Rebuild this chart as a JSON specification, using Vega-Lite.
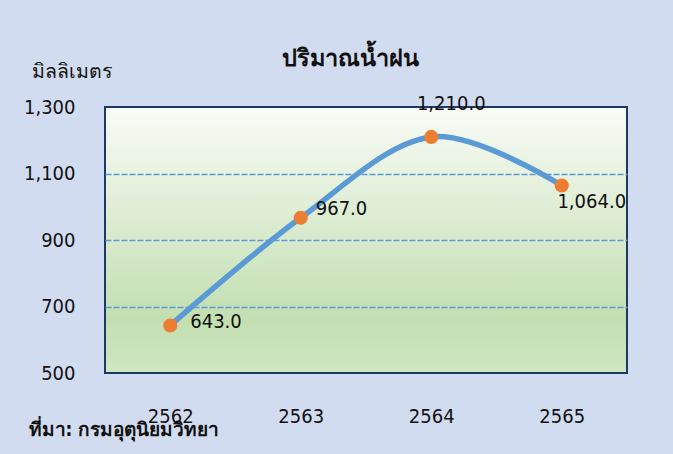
{
  "$schema": "https://vega.github.io/schema/vega-lite/v6.json",
  "width": 522,
  "height": 266,
  "autosize": {"type": "none"},
  "padding": {"left": 105, "top": 107, "right": 46, "bottom": 81},
  "background": "#d2dcf0",
  "config": {
    "font": "DejaVu Sans Condensed",
    "view": {
      "fill": {"gradient": "linear", "x1": 0, "y1": 0, "x2": 0, "y2": 1,
        "stops": [{"offset": 0, "color": "#f9fbf6"}, {"offset": 0.8, "color": "#c3dfb1"}, {"offset": 1, "color": "#d0e6c2"}]},
      "stroke": "#1f3864",
      "strokeWidth": 2
    }
  },
  "title": {
    "text": "ปริมาณน้ำฝน",
    "frame": "group",
    "anchor": "middle",
    "dx": -16,
    "offset": -21,
    "baseline": "middle",
    "fontSize": 23.5,
    "fontWeight": "bold",
    "color": "#111111"
  },
  "data": {
    "values": [
      {"year": "2562", "rain": 643},
      {"year": "2563", "rain": 967},
      {"year": "2564", "rain": 1210},
      {"year": "2565", "rain": 1064}
    ]
  },
  "encoding": {
    "x": {
      "field": "year", "type": "ordinal",
      "scale": {"type": "point", "padding": 0.5},
      "axis": {
        "title": "ที่มา: กรมอุตุนิยมวิทยา",
        "labelAngle": 0, "labelFontSize": 20, "labelColor": "#111111", "labelPadding": 33,
        "ticks": false, "domain": false, "grid": false,
        "titleX": -77, "titleY": 56, "titleAlign": "left", "titleAnchor": "start", "titleBaseline": "middle",
        "titleFontSize": 19, "titleFontWeight": "bold", "titleColor": "#111111"
      }
    },
    "y": {
      "field": "rain", "type": "quantitative",
      "scale": {"domain": [500, 1300], "nice": false, "zero": false},
      "axis": {
        "title": "มิลลิเมตร",
        "values": [500, 700, 900, 1100, 1300],
        "format": ",d",
        "labelFontSize": 20, "labelColor": "#111111", "labelPadding": 30,
        "ticks": false, "domain": false,
        "grid": true, "gridColor": "#5b9bd5", "gridDash": [6, 2], "gridWidth": 1.5,
        "gridOpacity": {"condition": {"test": "datum.value == 500 || datum.value == 1300", "value": 0}, "value": 1},
        "titleAngle": 0, "titleX": -74, "titleY": -36, "titleAlign": "left", "titleBaseline": "middle",
        "titleFontSize": 19.5, "titleFontWeight": "normal", "titleColor": "#111111"
      }
    }
  },
  "layer": [
    {"mark": {"type": "line", "interpolate": "cardinal", "color": "#5b9bd5", "strokeWidth": 5.5}},
    {"mark": {"type": "point", "filled": true, "size": 200, "color": "#ed7d31", "opacity": 1}},
    {"transform": [{"filter": "datum.year == '2562'"}],
     "mark": {"type": "text", "align": "left", "baseline": "middle", "dx": 20, "dy": -3, "fontSize": 20, "color": "#111111"},
     "encoding": {"text": {"field": "rain", "format": ",.1f"}}},
    {"transform": [{"filter": "datum.year == '2563'"}],
     "mark": {"type": "text", "align": "left", "baseline": "middle", "dx": 15, "dy": -9, "fontSize": 20, "color": "#111111"},
     "encoding": {"text": {"field": "rain", "format": ",.1f"}}},
    {"transform": [{"filter": "datum.year == '2564'"}],
     "mark": {"type": "text", "align": "center", "baseline": "middle", "dx": 20, "dy": -33, "fontSize": 20, "color": "#111111"},
     "encoding": {"text": {"field": "rain", "format": ",.1f"}}},
    {"transform": [{"filter": "datum.year == '2565'"}],
     "mark": {"type": "text", "align": "center", "baseline": "middle", "dx": 30, "dy": 17, "fontSize": 20, "color": "#111111"},
     "encoding": {"text": {"field": "rain", "format": ",.1f"}}}
  ]
}
